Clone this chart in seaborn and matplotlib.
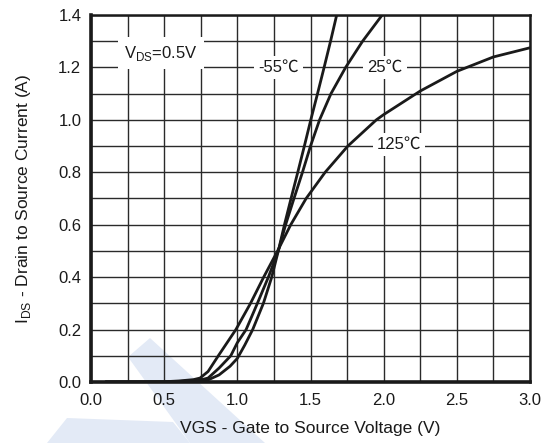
import matplotlib
matplotlib.use("Agg")
import matplotlib.pyplot as plt
from matplotlib.ticker import MultipleLocator, FormatStrFormatter
from matplotlib.patches import Polygon
import pandas as pd
import seaborn as sns

# transfer characteristics
vgs_m55 = [0.1, 0.5, 0.6, 0.7, 0.75, 0.8, 0.875, 0.95, 1.0, 1.05, 1.105, 1.178, 1.235, 1.28,
           1.322, 1.367, 1.413, 1.458, 1.502, 1.548, 1.593, 1.637, 1.679]
ids_m55 = [0.0, 0.0, 0.001, 0.002, 0.004, 0.008, 0.027, 0.06, 0.09, 0.14, 0.2, 0.3, 0.4, 0.5,
           0.6, 0.7, 0.8, 0.9, 1.0, 1.1, 1.2, 1.3, 1.4]

vgs_25 = [0.1, 0.5, 0.6, 0.7, 0.75, 0.8, 0.875, 0.955, 1.0, 1.06, 1.137, 1.212, 1.28,
          1.33, 1.387, 1.445, 1.50, 1.562, 1.64, 1.74, 1.856, 1.99]
ids_25 = [0.0, 0.0, 0.002, 0.005, 0.008, 0.015, 0.053, 0.1, 0.15, 0.2, 0.3, 0.4, 0.5,
          0.6, 0.7, 0.8, 0.9, 1.0, 1.1, 1.2, 1.3, 1.4]

vgs_125 = [0.1, 0.5, 0.6, 0.7, 0.745, 0.8, 0.87, 0.99, 1.09, 1.18, 1.275, 1.365, 1.47,
           1.6, 1.755, 1.95, 2.0, 2.25, 2.5, 2.75, 3.0]
ids_125 = [0.0, 0.001, 0.004, 0.009, 0.015, 0.04, 0.1, 0.2, 0.3, 0.4, 0.5, 0.6, 0.7,
           0.8, 0.9, 1.0, 1.02, 1.11, 1.185, 1.24, 1.275]

temps = ["-55℃", "25℃", "125℃"]
label_pos = {"-55℃": (1.28, 1.2), "25℃": (2.01, 1.2), "125℃": (2.105, 0.905)}

df = pd.concat([
    pd.DataFrame({"VGS": vgs_m55, "IDS": ids_m55, "T": temps[0]}),
    pd.DataFrame({"VGS": vgs_25, "IDS": ids_25, "T": temps[1]}),
    pd.DataFrame({"VGS": vgs_125, "IDS": ids_125, "T": temps[2]}),
])

sns.set_style("white")
plt.rcParams["font.family"] = ["Liberation Sans", "Noto Sans CJK SC", "DejaVu Sans"]
plt.rcParams["mathtext.fontset"] = "custom"
plt.rcParams["mathtext.rm"] = "Liberation Sans"

W, H = 553, 443
fig = plt.figure(figsize=(W / 100, H / 100), dpi=100)

# faint watermark, drawn before the axes
wm = "#e3eaf6"
for pts in ([(128, 357), (150, 338), (265, 443), (190, 443)],
            [(47, 443), (67, 418), (173, 422), (190, 443)]):
    fig.patches.append(Polygon([(x / W, 1 - y / H) for x, y in pts], closed=True,
                               transform=fig.transFigure, facecolor=wm, edgecolor="none", zorder=-5))

ax = fig.add_axes([91 / W, 1 - 382 / H, 439 / W, 367 / H])
ax.set_zorder(1)
ax.patch.set_alpha(0)

ax.xaxis.set_major_locator(MultipleLocator(0.5))
ax.xaxis.set_minor_locator(MultipleLocator(0.25))
ax.yaxis.set_major_locator(MultipleLocator(0.2))
ax.yaxis.set_minor_locator(MultipleLocator(0.1))
ax.grid(which="both", color="#2a2a2a", linewidth=1.0)
ax.set_axisbelow(True)

sns.lineplot(data=df, x="VGS", y="IDS", hue="T", palette=["#1a1a1a"] * 3,
             sort=False, estimator=None, linewidth=2.0, legend=False, ax=ax, zorder=3)

ax.set_xlim(0, 3.0)
ax.set_ylim(0, 1.4)
ax.xaxis.set_major_formatter(FormatStrFormatter("%.1f"))
ax.yaxis.set_major_formatter(FormatStrFormatter("%.1f"))
ax.tick_params(which="both", length=0, labelsize=12, colors="#1a1a1a")
ax.tick_params(axis="y", pad=7)
ax.tick_params(axis="x", pad=8)

for side in ["left", "bottom"]:
    ax.spines[side].set_linewidth(2.6)
for side in ["top", "right"]:
    ax.spines[side].set_linewidth(1.8)
for s in ax.spines.values():
    s.set_color("#1a1a1a")
    s.set_zorder(5)

box = dict(facecolor="white", edgecolor="none", pad=3.0)
for t in temps:
    x, y = label_pos[t]
    ax.text(x, y, t, ha="center", va="center", fontsize=12, color="#1a1a1a", bbox=box, zorder=4)
ax.text(0.48, 1.255, r"V$_{\mathregular{DS}}$=0.5V", ha="center", va="center", fontsize=12,
        color="#1a1a1a", bbox=dict(facecolor="white", edgecolor="none", pad=4.5), zorder=4)

ax.set_xlabel("VGS - Gate to Source Voltage (V)", fontsize=12.5, color="#1a1a1a", labelpad=9)
ax.set_ylabel(r"I$_{\mathregular{DS}}$ - Drain to Source Current (A)", fontsize=12.5,
              color="#1a1a1a", labelpad=18)

fig.savefig("out.png", dpi=100)
